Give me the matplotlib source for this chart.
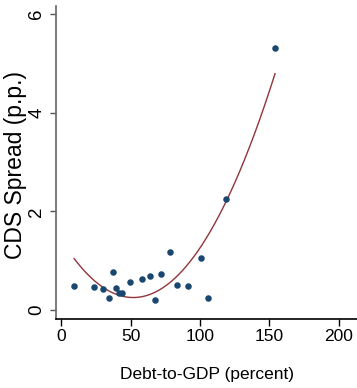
import numpy as np
import matplotlib
matplotlib.use('Agg')
import matplotlib.pyplot as plt

plt.rcParams['font.family'] = ['Liberation Sans', 'DejaVu Sans']

# Debt-to-GDP (percent) and CDS spread (p.p.)
debt = [9.4, 23.7, 30.2, 34.3, 37.2, 39.8, 41.7, 43.9, 49.9, 58.0,
        64.3, 67.6, 72.2, 78.6, 83.7, 91.4, 101.0, 105.5, 119.0, 154.0]
cds = [0.49, 0.47, 0.43, 0.25, 0.77, 0.44, 0.35, 0.34, 0.57, 0.62,
       0.69, 0.20, 0.74, 1.18, 0.50, 0.49, 1.06, 0.24, 2.25, 5.31]

xticks = [0, 50, 100, 150, 200]
yticks = [0, 2, 4, 6]

# quadratic fit (like Stata qfit)
coef = np.polyfit(debt, cds, 2)
xf = np.linspace(min(debt), max(debt), 200)
yf = np.polyval(coef, xf)

fig = plt.figure(figsize=(3.57, 3.88), dpi=100)
ax = fig.add_axes([0.157, 0.178, 0.843, 0.807])

ax.scatter(debt, cds, s=22, color='#1a476f', zorder=3, linewidths=0)
ax.plot(xf, yf, color='#90353b', lw=1.0)

ax.set_xlim(-3.6, 213)
ax.set_ylim(-0.18, 6.17)
ax.set_xticks(xticks)
ax.set_yticks(yticks)
ax.set_xticklabels([str(t) for t in xticks], fontsize=12.5)
ax.set_yticklabels([str(t) for t in yticks], fontsize=13.5, rotation=90, va='center')
ax.tick_params(axis='x', length=5, width=1, pad=2.5)
ax.tick_params(axis='y', length=4.3, width=1, pad=3.5, color='#555555')

for s in ['top', 'right']:
    ax.spines[s].set_visible(False)
ax.spines['left'].set_color('#666666')
ax.spines['left'].set_linewidth(1.2)
ax.spines['bottom'].set_linewidth(1.2)

fig.text(206.5 / 357, 1 - 375 / 388, 'Debt-to-GDP (percent)', fontsize=12.5,
         ha='center', va='center')
fig.text(16 / 357, 1 - 165 / 388, 'CDS Spread (p.p.)', fontsize=16.5,
         rotation=90, ha='center', va='center')

fig.savefig('out.png', dpi=100)
